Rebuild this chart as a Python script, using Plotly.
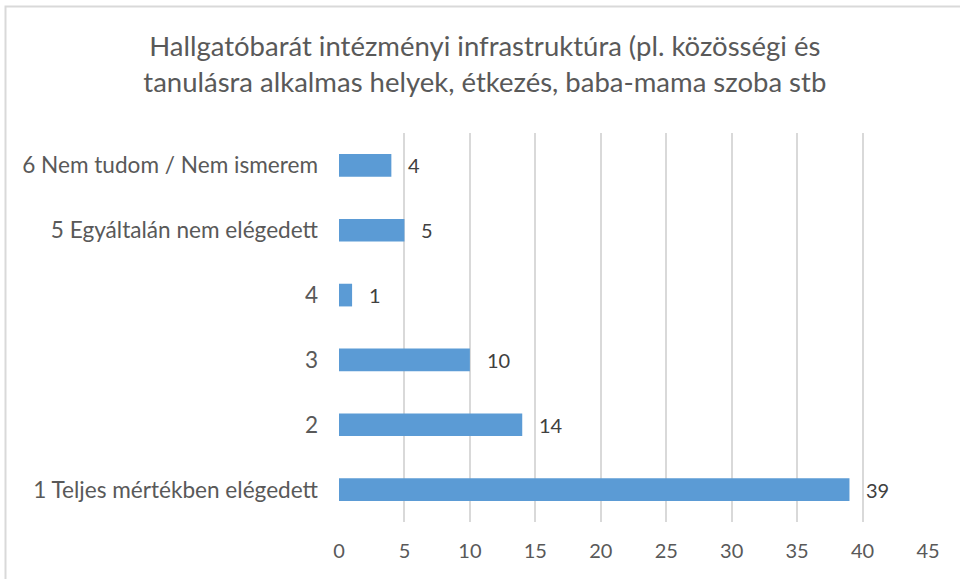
import plotly.graph_objects as go

categories = ["1 Teljes mértékben elégedett", "2", "3", "4",
              "5 Egyáltalán nem elégedett", "6 Nem tudom / Nem ismerem"]
values = [39, 14, 10, 1, 5, 4]
tick_vals = [0, 5, 10, 15, 20, 25, 30, 35, 40, 45]
title_text = ("Hallgatóbarát intézményi infrastruktúra (pl. közösségi és<br>"
              "tanulásra alkalmas helyek, étkezés, baba-mama szoba stb")

FONT = "Lato, 'Open Sans', sans-serif"
GRAY = "#595959"

fig = go.Figure()
fig.add_trace(go.Bar(
    x=values, y=categories, orientation="h",
    marker=dict(color="#5b9bd5", line=dict(color="#5b9bd5", width=0)),
    width=0.35, hoverinfo="x+y", showlegend=False,
))

for i, (v, c) in enumerate(zip(values, categories)):
    fig.add_annotation(x=v, y=i, text=str(v), showarrow=False,
                       xanchor="left", xshift=15,
                       font=dict(family=FONT, size=20, color="#404040"))

fig.update_layout(
    width=960, height=579,
    margin=dict(l=339, r=32, t=133, b=57),
    paper_bgcolor="white", plot_bgcolor="white",
    title=dict(text=title_text, x=0.505, xanchor="center", y=0.903, yanchor="top",
               font=dict(family=FONT, size=27.5, color=GRAY)),
    xaxis=dict(range=[0, 45], tickvals=tick_vals, showgrid=True,
               gridcolor="#d9d9d9", gridwidth=2, zeroline=False,
               showline=False, ticks="", ticklabelstandoff=15,
               tickfont=dict(family=FONT, size=20, color=GRAY), fixedrange=True),
    yaxis=dict(type="category", categoryorder="array", categoryarray=categories,
               showgrid=False, zeroline=False, showline=False, ticks="",
               ticklabelstandoff=20,
               tickfont=dict(family=FONT, size=22.6, color=GRAY), fixedrange=True),
    shapes=[dict(type="rect", xref="paper", yref="paper",
                 x0=(5.5 - 339) / 589, x1=1.3, y0=-0.4, y1=1 + (133 - 6.5) / 389,
                 line=dict(color="#d9d9d9", width=2), fillcolor="rgba(0,0,0,0)",
                 layer="below")],
)

fig.write_html("out.html", config={"displayModeBar": False},
               post_script="document.body.style.margin='0';document.body.style.overflow='hidden';")
